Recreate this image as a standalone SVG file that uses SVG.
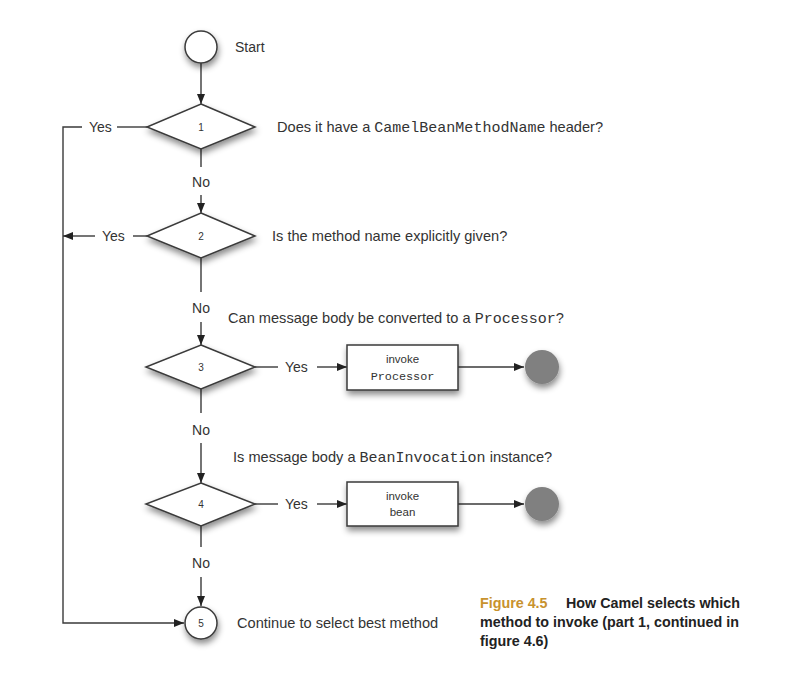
<svg xmlns="http://www.w3.org/2000/svg" width="786" height="687" viewBox="0 0 786 687">
<style>
.ln{stroke:#3a3a3a;stroke-width:1.4;fill:none}
.shape{fill:#fff;stroke:#3a3a3a;stroke-width:1.5}
.t{font-family:"Liberation Sans",Arial,sans-serif;font-size:14px;fill:#333}
.q{font-family:"Liberation Sans",Arial,sans-serif;font-size:14.6px;fill:#333}
.m{font-family:"Liberation Mono","Courier New",monospace;font-size:15px;fill:#333}
.num{font-family:"Liberation Sans",Arial,sans-serif;font-size:10px;fill:#333;text-anchor:middle}
.bx{font-family:"Liberation Sans",Arial,sans-serif;font-size:11.5px;fill:#333;text-anchor:middle}
.bxm{font-family:"Liberation Mono","Courier New",monospace;font-size:11.8px;fill:#333;text-anchor:middle}
.lbl{font-family:"Liberation Sans",Arial,sans-serif;font-size:14px;fill:#333;text-anchor:middle}
.cap{font-family:"Liberation Sans",Arial,sans-serif;font-size:14.3px;font-weight:bold;fill:#222}
.end{fill:#808080}
</style>
<defs>
<filter id="sh" x="-40%" y="-40%" width="180%" height="200%">
<feDropShadow dx="1" dy="4" stdDeviation="3" flood-color="#000" flood-opacity="0.45"/>
</filter>
<marker id="ar" viewBox="0 0 10 10" refX="10" refY="5" markerWidth="10" markerHeight="10" markerUnits="userSpaceOnUse" orient="auto">
<path d="M0,1 L10,5 L0,9 Z" fill="#222"/>
</marker>
</defs>
<g id="connectors">
<line class="ln" x1="201" y1="63" x2="201" y2="104" marker-end="url(#ar)"/>
<line class="ln" x1="201" y1="149" x2="201" y2="167"/>
<line class="ln" x1="201" y1="195" x2="201" y2="213" marker-end="url(#ar)"/>
<line class="ln" x1="201" y1="258" x2="201" y2="292"/>
<line class="ln" x1="201" y1="322" x2="201" y2="345" marker-end="url(#ar)"/>
<line class="ln" x1="201" y1="389" x2="201" y2="413"/>
<line class="ln" x1="201" y1="443" x2="201" y2="483" marker-end="url(#ar)"/>
<line class="ln" x1="201" y1="526" x2="201" y2="547"/>
<line class="ln" x1="201" y1="577" x2="201" y2="606" marker-end="url(#ar)"/>
<polyline class="ln" points="82,127 63,127 63,623 184,623" marker-end="url(#ar)"/>
<line class="ln" x1="147" y1="127" x2="117" y2="127"/>
<line class="ln" x1="147" y1="236" x2="133" y2="236"/>
<line class="ln" x1="95" y1="236" x2="63" y2="236" marker-end="url(#ar)"/>
<line class="ln" x1="255" y1="367" x2="278" y2="367"/>
<line class="ln" x1="317" y1="367" x2="347" y2="367" marker-end="url(#ar)"/>
<line class="ln" x1="458" y1="367" x2="524" y2="367" marker-end="url(#ar)"/>
<line class="ln" x1="255" y1="504" x2="278" y2="504"/>
<line class="ln" x1="317" y1="504" x2="347" y2="504" marker-end="url(#ar)"/>
<line class="ln" x1="458" y1="504" x2="524" y2="504" marker-end="url(#ar)"/>
<text class="t" x="89" y="132">Yes</text>
<text class="t" x="102" y="241">Yes</text>
<text class="t" x="285" y="372">Yes</text>
<text class="t" x="285" y="509">Yes</text>
<text class="lbl" x="201" y="187">No</text>
<text class="lbl" x="201" y="313">No</text>
<text class="lbl" x="201" y="435">No</text>
<text class="lbl" x="201" y="568">No</text>
</g>
<g id="start">
<circle class="shape" cx="201" cy="47" r="16" filter="url(#sh)"/>
<text class="t" x="235" y="52">Start</text>
</g>
<g id="d1">
<polygon class="shape" points="201,104 255,127 201,149 147,127" filter="url(#sh)"/>
<text class="num" x="201" y="131">1</text>
<text class="q" x="277" y="132">Does it have a <tspan class="m">CamelBeanMethodName</tspan> header?</text>
</g>
<g id="d2">
<polygon class="shape" points="201,213 255,236 201,258 147,236" filter="url(#sh)"/>
<text class="num" x="201" y="240">2</text>
<text class="q" x="272" y="241">Is the method name explicitly given?</text>
</g>
<g id="d3">
<polygon class="shape" points="201,345 255,367 201,389 146,367" filter="url(#sh)"/>
<text class="num" x="201" y="371">3</text>
<text class="q" x="228" y="323">Can message body be converted to a <tspan class="m">Processor</tspan>?</text>
</g>
<g id="p1">
<rect class="shape" x="347" y="345" width="111" height="45" filter="url(#sh)"/>
<text class="bx" x="402.5" y="363">invoke</text>
<text class="bxm" x="402.5" y="380">Processor</text>
</g>
<g id="e1">
<circle class="end" cx="542" cy="367" r="17" filter="url(#sh)"/>
</g>
<g id="d4">
<polygon class="shape" points="201,483 255,504 201,526 146,504" filter="url(#sh)"/>
<text class="num" x="201" y="508">4</text>
<text class="q" x="233" y="462">Is message body a <tspan class="m">BeanInvocation</tspan> instance?</text>
</g>
<g id="p2">
<rect class="shape" x="347" y="482" width="111" height="44" filter="url(#sh)"/>
<text class="bx" x="402.5" y="500">invoke</text>
<text class="bx" x="402.5" y="516">bean</text>
</g>
<g id="e2">
<circle class="end" cx="542" cy="504" r="17" filter="url(#sh)"/>
</g>
<g id="n5">
<circle class="shape" cx="201" cy="623" r="16" filter="url(#sh)"/>
<text class="num" x="201" y="627">5</text>
<text class="q" x="237" y="628">Continue to select best method</text>
</g>
<g id="caption">
<text class="cap" x="480" y="608"><tspan fill="#c8922e">Figure 4.5</tspan><tspan x="566">How Camel selects which</tspan></text>
<text class="cap" x="480" y="627">method to invoke (part 1, continued in</text>
<text class="cap" x="480" y="646">figure 4.6)</text>
</g>
</svg>
